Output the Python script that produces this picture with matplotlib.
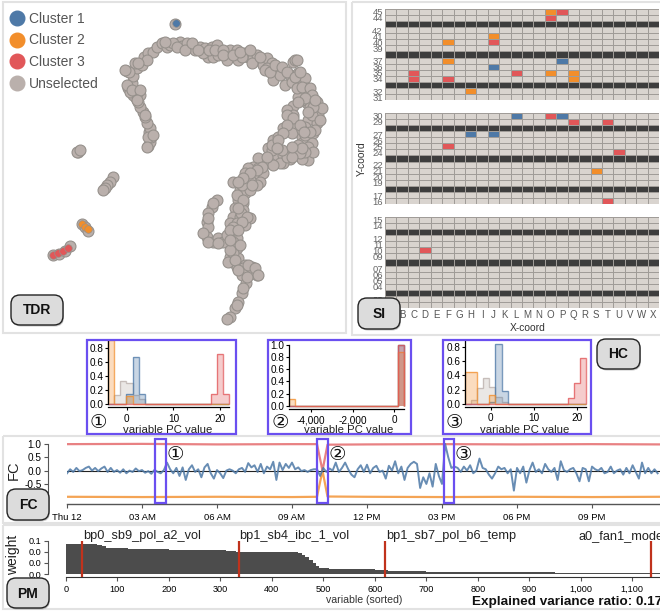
#<<---Linked views: TDR scatter, SI grid, HC histograms, FC line, PM bars--->>#
import matplotlib as mlp
mlp.use('Agg')
import matplotlib.pyplot as plt
import numpy as np
from matplotlib.colors import ListedColormap
from matplotlib.lines import Line2D
from matplotlib.patches import FancyBboxPatch, Rectangle
from matplotlib.ticker import FixedLocator, FuncFormatter

plt.rcParams['font.family'] = ['Liberation Sans', 'DejaVu Sans']

BLUE, ORANGE, RED, GRAY = '#4e79a7', '#f28e2b', '#e15759', '#bab0ac'
PURPLE = '#6a4ff0'
W, H = 660, 616

#>> TDR data
unselected = [
    (445,437),(450,425),(452,410),(447,395),(450,385),(442,370),(435,350),(428,335),(420,320),(415,305),
    (408,295),(420,285),(400,285),(385,265),(395,250),(400,228),(380,212),(410,205),(405,190),(425,195),
    (432,170),(445,160),(458,155),(470,140),(485,130),(500,140),(510,135),(540,125),(545,138),(570,140),
    (585,150),(600,140),(615,145),(625,170),(635,140),(650,135),(660,155),(640,170),(680,180),(690,150),
    (710,150),(715,180),(735,160),(745,170),(760,175),(775,180),(790,195),(800,175),(815,190),(820,240),
    (830,210),(850,210),(855,255),(870,225),(880,185),(885,180),(895,220),(905,240),(915,235),(920,265),
    (905,290),(925,280),(940,300),(920,310),(955,322),(945,340),(955,345),(925,360),(950,370),(915,380),
    (940,400),(905,410),(920,425),(935,430),(905,430),(880,455),(925,480),(905,478),(890,450),(870,478),
    (850,490),(830,465),(805,445),(820,420),(835,410),(850,385),(880,380),(875,400),(870,340),(880,318),
    (860,330),(905,300),(895,290),(800,205),(840,225),(770,165),(725,170),(655,165),(610,160),(560,130),
    (520,130),(440,180),(415,190),(390,275),(410,280),(930,320),(935,345),(905,390),(915,405),(895,435),
    (850,465),(815,450),(790,480),(840,490),(860,470),(775,475),(760,500),(745,505),(735,520),(760,530),
    (790,520),(800,490),(820,495),(780,545),(770,555),(740,545),(700,545),(720,570),(735,580),(750,570),
    (715,600),(730,610),(705,625),(730,630),(700,650),(720,650),(750,655),(690,670),(710,670),(735,675),
    (695,700),(710,715),(680,725),(710,745),(690,770),(715,775),(695,785),(710,800),(735,795),(755,800),
    (770,825),(745,815),(725,825),(737,850),(725,880),(715,905),(705,925),(690,950),(680,958),(775,505),
    (750,540),(725,555),(712,585),(722,640),(705,690),(700,760),(728,805),(760,812),(730,865),(710,915),
    (650,600),(635,620),(625,640),(620,665),(625,680),(620,710),(640,725),(655,715),(670,725),(680,705),
    (495,125),(530,140),(555,150),(575,130),(595,150),(628,150),(645,150),(670,150),(670,165),(700,165),
    (720,155),(750,150),(755,190),(780,170),(795,210),(810,215),(825,195),(845,200),(862,215),(875,245),
    (885,230),(900,215),(890,265),(905,260),(930,265),(935,285),(915,295),(895,305),(950,305),(965,325),
    (940,320),(960,360),(945,390),(930,395),(925,440),(940,455),(915,455),(900,460),(875,470),(845,450),
    (830,440),(815,435),(800,470),(785,500),(770,510),(750,520),(730,535),(715,545),(755,555),(730,600),
    (715,625),(740,650),(725,665),(700,680),(690,690),(715,690),(700,725),(720,735),(690,750),(685,785),
    (705,780),(745,795),(765,805),(775,825),(740,830),(715,810),(640,610),(625,655),(610,700),(625,725),
    (655,730),(690,720),(388,215),(375,210),(382,255),(395,270),(420,270),(412,300),(435,345),(445,410),
    (440,440),(460,405),(880,345),(860,345),(880,355),(925,335),(945,300),(900,375),(912,395),(860,375),
    (850,400),(835,420),(830,445),(905,445),(875,440),(890,180),
    (235,455),(230,457),(240,450),(338,530),(330,545),(322,555),(315,565),(308,570),
    (245,672),(255,682),(265,692),(160,764),(178,762),(195,752),(210,738),(525,72),
]
cluster1_pts = [(528,68)]
cluster2_pts = [(245,672),(254,680),(263,688)]
cluster3_pts = [(158,764),(173,758),(188,754),(203,744)]

#>> SI data
col_letters = list('ABCDEFGHIJKLMNOPQRSTUVWX')
panel_rows = [list(range(45, 30, -1)), list(range(30, 15, -1)), list(range(15, 0, -1))]
dark_rows = [43, 38, 33, 28, 23, 18, 13, 8, 3]
cells_blue = [('P',37),('J',36),('L',30),('P',30),('H',27),('J',27)]
cells_orange = [('O',45),('J',41),('F',40),('F',37),('O',35),('Q',35),('Q',34),('H',32),('S',21)]
cells_red = [('P',45),('O',44),('J',40),('C',35),('L',35),('C',34),('F',34),('O',30),('Q',29),('T',29),
             ('F',25),('U',24),('T',16),('D',10)]

#>> HC data
h1_gray = [0, .13, .33, .31, .13, .07, .01, 0, 0, 0, 0, 0, 0, 0, 0, 0, 0, 0, .01, 0]
h1_blue = [0, 0, 0, .15, .67, .15, .01, 0, 0, 0, 0, 0, 0, 0, 0, 0, 0, 0, 0, 0]
h1_orange = [.92, 0, 0, .12, 0, 0, 0, 0, 0, 0, 0, 0, 0, 0, 0, 0, 0, 0, 0, 0]
h1_red = [0, 0, 0, 0, 0, 0, 0, 0, 0, 0, 0, 0, 0, 0, 0, 0, 0, .14, .72, .14]

h2_gray = [0, 0, 0, 0, 0, 0, 0, 0, 0, 0, 0, 0, 0, 0, 0, 0, 0, 0, 1.0]
h2_blue = [0, 0, 0, 0, 0, 0, 0, 0, 0, 0, 0, 0, 0, 0, 0, 0, 0, 0, 1.0]
h2_orange = [.11, 0, 0, 0, 0, 0, 0, 0, 0, 0, 0, 0, 0, 0, 0, 0, 0, 0, .89]
h2_red = [0, 0, 0, 0, 0, 0, 0, 0, 0, 0, 0, 0, 0, 0, 0, 0, 0, 0, 1.0]

h3_gray = [0, .05, .22, .36, .24, .10, .03, 0, 0, 0, 0, 0, 0, 0, 0, 0, 0, 0, 0, 0]
h3_blue = [0, 0, 0, 0, .02, .84, .18, 0, 0, 0, 0, 0, 0, 0, 0, 0, 0, 0, 0, 0]
h3_orange = [.45, .45, 0, 0, .12, 0, 0, 0, 0, 0, 0, 0, 0, 0, 0, 0, 0, 0, 0, 0]
h3_red = [0, 0, 0, 0, 0, 0, 0, 0, 0, 0, 0, 0, 0, 0, 0, 0, 0, .08, .29, .65]

#>> FC data (one value every 7.5 minutes)
fc_blue = [
    -0.1,0.05,-0.05,0.1,-0.02,0.02,0.1,0.15, 0.0,0.1,-0.02,0.08,0.15,-0.05,0.1,-0.05,
    0.02,-0.08,0.05,-0.1,0.0,-0.05,0.08,-0.02, 0.02,-0.08,-0.02,-0.12,0.03,-0.05,-0.1,0.02,
    0.3,0.05,-0.1,0.1,-0.2,0.12,-0.35,0.05, 0.2,-0.05,0.05,-0.25,0.12,0.25,-0.1,-0.3,
    0.02,-0.1,-0.28,0.0,0.05,0.0,-0.1,0.05, 0.1,-0.05,0.28,0.12,0.2,-0.05,0.25,-0.1,
    0.15,0.05,0.33,-0.35,0.3,0.02,0.25,0.1, 0.3,0.05,0.12,-0.02,0.02,-0.05,0.02,0.05,
    0.05,-0.2,0.1,-0.05,0.08,0.0,0.3,-0.05, 0.1,0.3,0.05,-0.15,-0.25,0.05,0.2,-0.05,
    0.22,-0.1,0.1,0.18,-0.05,0.0,-0.3,0.18, 0.0,0.35,-0.1,0.15,-0.35,0.1,0.25,0.33,
    0.25,-0.65,-0.25,-0.5,-0.1,-0.6,0.25,-0.2, -0.5,1.0,0.5,0.1,0.15,0.1,-0.05,0.15,
    0.0,0.2,-0.1,0.0,0.45,0.1,0.05,-0.15, -0.3,-0.1,0.15,0.05,0.1,-0.1,0.05,-0.75,
    0.1,-0.1,0.15,-0.45,0.02,0.3,-0.05,0.05, -0.1,0.25,0.05,-0.05,0.1,-0.35,0.35,0.02,
    -0.05,0.05,0.1,-0.1,-0.4,0.1,0.05,-0.4, 0.15,0.05,0.0,0.1,-0.1,-0.05,0.15,-0.1,
    0.0,0.05,-0.15,0.1,-0.1,0.2,-0.05,-0.3, 0.3,-0.1,0.1,-0.1,0.05,-0.1,
]
fc_edge_hours = [0, 3, 6, 9, 10.0, 10.22, 10.42, 12, 15, 18, 21, 23.72]
fc_red = [.99, 1.0, .98, .99, .99, 0.0, .97, .98, .99, .98, .99, .98]
fc_orange = [-.98, -.99, -.98, -.99, -.98, 0.0, -.97, -.98, -.99, -.98, -.99, -.98]
fc_tick_hours = [0, 3, 6, 9, 12, 15, 18, 21]
fc_tick_labels = ['Thu 12', '03 AM', '06 AM', '09 AM', '12 PM', '03 PM', '06 PM', '09 PM']

#>> PM data
rank_edges = [0,30,60,70,78,85,120,160,200,240,280,310,330,370,420,450,458,465,472,480,486,492,510,560,600,625,700,800,950,1100,1154]
weight_vals = [.054,.0535,.052,.050,.047,.0462,.0455,.0448,.044,.0435,.0425,.041,.0402,.0395,.039,.037,.034,.030,.026,.020,.014,.010,.0098,.009,.0065,.005,.004,.003,.002,.001]
marked_ranks = [32, 336, 620, 1137]
marked_names = ['bp0_sb9_pol_a2_vol', 'bp1_sb4_ibc_1_vol', 'bp1_sb7_pol_b6_temp', 'a0_fan1_mode']
pm_ticks = [0, 100, 200, 300, 400, 500, 600, 700, 800, 900, 1000, 1100]


def px_axes(x0, y0, x1, y1):
    ax = fig.add_axes([x0 / W, 1 - y1 / H, (x1 - x0) / W, (y1 - y0) / H])
    ax.patch.set_alpha(0)
    return ax


fig = plt.figure(figsize=(6.6, 6.16), dpi=100)

#>> Panel frames and overlay in pixel space
under = px_axes(0, 0, W, H)
under.set_xlim(0, W)
under.set_ylim(H, 0)
under.axis('off')
for x0, y0, x1, y1 in [(3, 2, 346, 333), (352, 2, 662, 335), (3, 436, 662, 523), (3, 525, 662, 609)]:
    under.add_patch(Rectangle((x0, y0), x1 - x0, y1 - y0, fill=False, ec='#e2e2e2', lw=1.5))

#>> TDR
ax = px_axes(0, 0, 340, 335)
ax.set_xlim(0, 1020)
ax.set_ylim(1005, 0)
ax.axis('off')
base = np.array(unselected)
ax.scatter(base[:, 0], base[:, 1], s=62, c=GRAY, edgecolors='#96918c', linewidths=0.8)
for pts, col in [(cluster1_pts, BLUE), (cluster2_pts, ORANGE), (cluster3_pts, RED)]:
    pts = np.array(pts)
    ax.scatter(pts[:, 0], pts[:, 1], s=30, c=col, edgecolors='#96918c', linewidths=0.5)
handles = [Line2D([], [], ls='', marker='o', ms=10.5, color=c) for c in [BLUE, ORANGE, RED, GRAY]]
ax.legend(handles, ['Cluster 1', 'Cluster 2', 'Cluster 3', 'Unselected'], loc='upper left',
          bbox_to_anchor=(-0.005, 1.0), frameon=False, fontsize=10, labelcolor='#555555',
          handlelength=1, handletextpad=0.38, labelspacing=0.55, borderpad=0.35)

#>> SI grid
heat_cmap = ListedColormap(['#d9d4cf', BLUE, ORANGE, RED, '#3d3d3d'])
for rows, (y0, y1) in zip(panel_rows, [(8.7, 100.2), (112.7, 204.2), (216.7, 308.2)]):
    grid = np.zeros((len(rows), len(col_letters)))
    for i, r in enumerate(rows):
        if r in dark_rows:
            grid[i, :] = 4
    for cells, val in [(cells_blue, 1), (cells_orange, 2), (cells_red, 3)]:
        for letter, r in cells:
            if r in rows:
                grid[rows.index(r), col_letters.index(letter)] = val
    ax = px_axes(385, y0, 659, y1)
    ax.pcolormesh(grid, cmap=heat_cmap, vmin=0, vmax=4, edgecolors='#a09c98', linewidth=0.6)
    ax.set_ylim(len(rows), 0)
    for s in ax.spines.values():
        s.set_visible(False)
    labelled = [i for i, r in enumerate(rows) if r not in dark_rows]
    ax.set_yticks(np.array(labelled) + 0.5)
    ax.set_yticklabels(['%02d' % rows[i] for i in labelled], fontsize=6.8, color='#666666')
    ax.tick_params(axis='y', length=0, pad=1.5)
    if rows[0] == 15:
        ax.set_xticks(np.arange(len(col_letters)) + 0.5)
        ax.set_xticklabels(col_letters, fontsize=7, color='#555555')
        ax.tick_params(axis='x', length=0, pad=1.5)
    else:
        ax.set_xticks([])


#>> HC histograms
def hist_panel(box, xlim, ylim, edges, series, yticks, xticks, xfmt):
    ax = px_axes(*box)
    ax.set_xlim(*xlim)
    ax.set_ylim(*ylim)
    for vals, col in series:
        ax.stairs(vals, edges, fill=True, color=col, alpha=0.3, lw=0, clip_on=False)
        ax.stairs(vals, edges, color=col, alpha=0.75, lw=1.0, clip_on=False)
    ax.spines[['top', 'right']].set_visible(False)
    ax.spines['bottom'].set_position(('outward', 2.2))
    ax.spines['bottom'].set_linewidth(0.9)
    ax.spines['left'].set_linewidth(0.9)
    ax.set_yticks(yticks)
    ax.set_xticks(xticks)
    ax.xaxis.set_major_formatter(FuncFormatter(xfmt))
    ax.yaxis.set_major_formatter(FuncFormatter(lambda v, p: '%.1f' % v))
    ax.tick_params(labelsize=7.2, length=2, width=0.8, pad=1.5)
    ax.tick_params(axis='x', pad=2.5)


plain = lambda v, p: '%d' % v
thousands = lambda v, p: '{:,.0f}'.format(v)
hist_panel((108.3, 341.3, 229.3, 404.3), (-4, 22), (0, 0.9), np.linspace(-4, 22, 21),
           [(h1_gray, GRAY), (h1_blue, BLUE), (h1_orange, ORANGE), (h1_red, RED)],
           [0, .2, .4, .6, .8], [0, 10, 20], plain)
hist_panel((289.3, 345, 404.3, 405.7), (-5060, 480), (0, 1), np.linspace(-5060, 480, 20),
           [(h2_gray, GRAY), (h2_blue, BLUE), (h2_orange, ORANGE), (h2_red, RED)],
           [0, .2, .4, .6, .8, 1], [-4000, -2000, 0], thousands)
hist_panel((465.3, 340.2, 586, 403.7), (-5.85, 22), (0, 0.9), np.linspace(-5.85, 22, 21),
           [(h3_gray, GRAY), (h3_blue, BLUE), (h3_orange, ORANGE), (h3_red, RED)],
           [0, .2, .4, .6, .8], [0, 10, 20], plain)

#>> FC line
ax = px_axes(67, 438, 660, 504)
ax.set_xlim(0, 23.72)
ax.set_ylim(-1.25, 1.22)
ax.plot(fc_edge_hours, fc_red, color=RED, lw=1.6, alpha=0.75)
ax.plot(fc_edge_hours, fc_orange, color=ORANGE, lw=1.6, alpha=0.8)
ax.axhline(0, color='#222222', lw=0.8)
ax.plot(np.arange(len(fc_blue)) * 0.125, fc_blue, color=BLUE, lw=1.4, alpha=0.85)
ax.spines[['top', 'right']].set_visible(False)
ax.spines['left'].set_position(('outward', 13.7))
ax.spines['left'].set_bounds(-1, 1)
ax.spines['left'].set_color('#555555')
ax.spines['bottom'].set_color('#555555')
ax.spines['bottom'].set_linewidth(1.0)
ax.set_yticks([-1, -.5, 0, .5, 1])
ax.yaxis.set_major_formatter(FuncFormatter(lambda v, p: '%.1f' % v))
ax.set_xticks(fc_tick_hours)
ax.set_xticklabels(fc_tick_labels)
ax.tick_params(labelsize=6.8, length=3, width=0.8, pad=3.5, color='#555555')
ax.tick_params(axis='y', labelsize=7.2, pad=1.5)

#>> PM bars
ax = px_axes(66, 540.7, 660, 574)
ax.set_xlim(0, 1154)
ax.set_ylim(0, 0.06)
ax.stairs(weight_vals, rank_edges, fill=True, color='#4c4c4c', lw=0)
ax.vlines(marked_ranks, -0.0054, 0.06, color='#c0321c', lw=1.6, clip_on=False, zorder=5)
ax.spines[['top', 'right']].set_visible(False)
ax.spines['left'].set_position(('outward', 13))
ax.spines['left'].set_color('#555555')
ax.spines['bottom'].set_position(('outward', 2.2))
ax.spines['bottom'].set_color('#333333')
ax.yaxis.set_major_locator(FixedLocator([0, .02, .04, .06]))
ax.yaxis.set_major_formatter(FuncFormatter(lambda v, p: '%.1f' % v))
ax.set_xticks(pm_ticks)
ax.xaxis.set_major_formatter(FuncFormatter(lambda v, p: '{:,.0f}'.format(v)))
ax.tick_params(labelsize=6.6, length=3, width=0.8, pad=2.5, color='#555555')
ax.tick_params(axis='y', labelsize=6.6, pad=1.5)
for rank, name, dx in zip(marked_ranks, marked_names, [0.5, 0.5, 0.5, -52.5]):
    ax.annotate(name, (rank, 0.06), xytext=(dx, -0.7), textcoords='offset points',
                fontsize=9.2, color='#222222', va='bottom', ha='left', annotation_clip=False)

#>> Overlay: boxes, labels, badges
over = px_axes(0, 0, W, H)
over.set_xlim(0, W)
over.set_ylim(H, 0)
over.axis('off')
for x, y in [(168, 430), (349, 430), (525, 430)]:
    over.text(x, y, 'variable PC value', fontsize=8.2, ha='center', va='center', color='#222222')
for x0, x1 in [(87, 236), (268, 411), (443, 591)]:
    over.add_patch(Rectangle((x0, 340), x1 - x0, 94, fill=False, ec=PURPLE, lw=1.6))
for x0, x1 in [(155, 166), (317, 328), (444, 454)]:
    over.add_patch(Rectangle((x0, 438.5), x1 - x0, 64, fill=False, ec=PURPLE, lw=1.6))
for x, y, s in [(98, 422, '①'), (280, 422, '②'), (454, 422, '③'),
                (175, 454, '①'), (337, 454, '②'), (463, 454, '③')]:
    over.text(x, y, s, fontsize=14, ha='center', va='center', family='DejaVu Sans', color='#111111')
over.text(528, 328, 'X-coord', fontsize=7.4, ha='center', va='center', color='#333333')
over.text(362, 159, 'Y-coord', fontsize=7.4, ha='center', va='center', rotation=90, color='#333333')
over.text(14, 470, 'FC', fontsize=10.5, ha='center', va='center', rotation=90, color='#222222')
over.text(13, 555, 'weight', fontsize=10, ha='center', va='center', rotation=90, color='#222222')
over.text(364, 600, 'variable (sorted)', fontsize=7.6, ha='center', va='center', color='#333333')
over.text(472, 602, 'Explained variance ratio: 0.17', fontsize=9.7, fontweight='bold',
          ha='left', va='center', color='#111111')
for x0, y0, x1, y1, s in [(11, 295, 63, 325, 'TDR'), (358, 298, 400, 329, 'SI'), (597, 339, 640, 369, 'HC'),
                          (7, 489, 49, 520, 'FC'), (7, 578, 49, 608, 'PM')]:
    over.add_patch(FancyBboxPatch((x0 + 1, y0 + 1.5), x1 - x0, y1 - y0, boxstyle='round,pad=0,rounding_size=9',
                                  fc='#888888', ec='none', alpha=0.45, zorder=8))
    over.add_patch(FancyBboxPatch((x0, y0), x1 - x0, y1 - y0, boxstyle='round,pad=0,rounding_size=9',
                                  fc='#dcdcdc', ec='#222222', lw=1.0, zorder=9))
    over.text((x0 + x1) / 2, (y0 + y1) / 2 + 0.5, s, fontsize=10, fontweight='bold', ha='center', va='center',
              color='#111111', zorder=10)

fig.savefig('out.png', dpi=100)
